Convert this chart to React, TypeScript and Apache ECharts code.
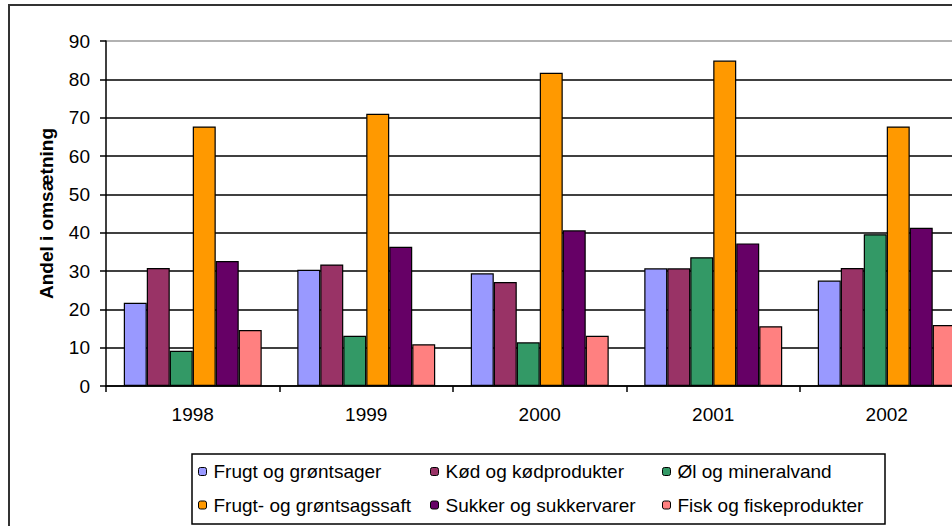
import React, { useEffect, useRef } from "react";
import * as echarts from "echarts";

const categories = ["1998", "1999", "2000", "2001", "2002"];
const seriesNames = [
  "Frugt og grøntsager",
  "Kød og kødprodukter",
  "Øl og mineralvand",
  "Frugt- og grøntsagssaft",
  "Sukker og sukkervarer",
  "Fisk og fiskeprodukter",
];
const frugt = [21.7, 30.3, 29.4, 30.7, 27.5];
const kod = [30.8, 31.7, 27.1, 30.7, 30.8];
const ol = [9.2, 13.1, 11.4, 33.6, 39.6];
const saft = [67.7, 71.0, 81.7, 84.9, 67.7];
const sukker = [32.6, 36.3, 40.6, 37.2, 41.3];
const fisk = [14.6, 10.9, 13.1, 15.6, 15.9];
const colors = ["#9999FF", "#993366", "#339966", "#FF9900", "#660066", "#FF8080"];
const yTicks = [0, 10, 20, 30, 40, 50, 60, 70, 80, 90];

const FONT = "'Liberation Sans', Arial, sans-serif";

export default function App() {
  const ref = useRef<HTMLDivElement>(null);
  useEffect(() => {
    if (!ref.current) return;
    const chart = echarts.init(ref.current, null, { renderer: "svg" });
    const values = [frugt, kod, ol, saft, sukker, fisk];
    const legendCols = [
      { left: 198, items: [seriesNames[0], seriesNames[3]] },
      { left: 430, items: [seriesNames[1], seriesNames[4]] },
      { left: 662, items: [seriesNames[2], seriesNames[5]] },
    ];
    chart.setOption({
      animation: false,
      backgroundColor: "#fff",
      textStyle: { fontFamily: FONT },
      grid: { left: 106, top: 41, width: 867.5, height: 345, containLabel: false },
      xAxis: {
        type: "category",
        data: categories,
        axisLine: { lineStyle: { color: "#000", width: 1.5 } },
        axisTick: { show: true, length: 6, inside: false, lineStyle: { color: "#000", width: 1.5 } },
        axisLabel: { color: "#000", fontSize: 19, fontFamily: FONT, margin: 19 },
        splitLine: { show: false },
      },
      yAxis: {
        type: "value",
        min: yTicks[0],
        max: yTicks[yTicks.length - 1],
        interval: 10,
        name: "Andel i omsætning",
        nameLocation: "middle",
        nameRotate: 90,
        nameGap: 50,
        nameTextStyle: { color: "#000", fontSize: 19, fontWeight: "bold", fontFamily: FONT },
        axisLine: { show: true, lineStyle: { color: "#000", width: 1.5 } },
        axisTick: { show: true, length: 6, lineStyle: { color: "#000", width: 1.5 } },
        axisLabel: { color: "#000", fontSize: 19, fontFamily: FONT, margin: 16 },
        splitLine: {
          show: true,
          lineStyle: {
            color: ["#000", "#000", "#000", "#000", "#000", "#000", "#000", "#000", "#000", "#999"],
            width: 1.5,
          },
        },
      },
      legend: legendCols.map((c) => ({
        orient: "vertical",
        left: c.left,
        top: 461.5,
        data: c.items,
        itemWidth: 8,
        itemHeight: 8,
        itemGap: 13.5,
        padding: 0,
        selectedMode: false,
        textStyle: { color: "#000", fontSize: 19, fontFamily: FONT, lineHeight: 20, padding: [0, 0, 0, 2] },
        itemStyle: { borderColor: "#000", borderWidth: 1 },
      })),
      graphic: [
        {
          type: "rect",
          z: -10,
          silent: true,
          shape: { x: 9, y: 5, width: 1200, height: 800 },
          style: { fill: "#fff", stroke: "#333", lineWidth: 2 },
        },
        {
          type: "rect",
          z: -5,
          silent: true,
          shape: { x: 192, y: 454, width: 693, height: 70 },
          style: { fill: "#fff", stroke: "#000", lineWidth: 1.5 },
        },
      ],
      series: values.map((v, i) => ({
        type: "bar",
        name: seriesNames[i],
        data: v,
        barGap: "0%",
        barCategoryGap: "20.5%",
        itemStyle: { color: colors[i], borderColor: "#000", borderWidth: 1.2 },
      })),
    });
    return () => chart.dispose();
  }, []);
  return (
    <div style={{ position: "absolute", left: 0, top: 0, width: 952, height: 526, overflow: "hidden" }}>
      <div ref={ref} style={{ width: 1000, height: 526 }} />
    </div>
  );
}
